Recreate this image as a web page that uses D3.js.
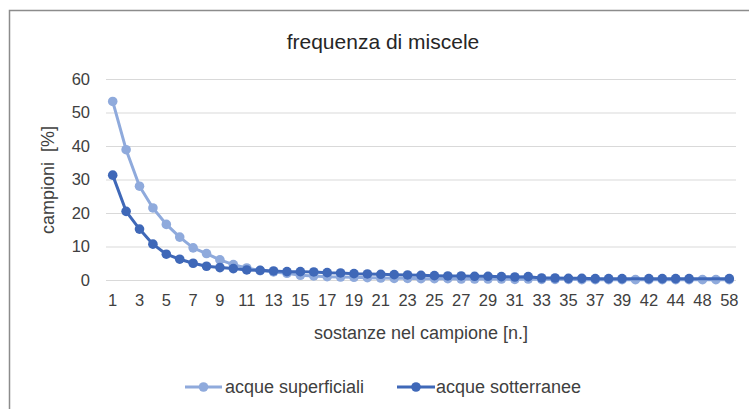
<!DOCTYPE html>
<html><head><meta charset="utf-8">
<script src="https://cdn.jsdelivr.net/npm/d3@7"></script>
<style>body{margin:0;background:#fff}svg{display:block}text{font-family:"Liberation Sans",Arial,sans-serif;fill:#404040}</style>
</head><body><svg id="c" width="749" height="409"></svg>
<script>
const categories = [1,2,3,4,5,6,7,8,9,10,11,12,13,14,15,16,17,18,19,20,21,22,23,24,25,26,27,28,29,30,31,32,33,34,35,36,37,38,39,40,42,43,44,46,48,50,58];
const superficiali = [53.3,38.9,28.0,21.5,16.6,12.8,9.6,7.9,6.0,4.6,3.6,2.8,2.4,2.0,1.4,1.2,1.0,0.9,0.8,0.7,0.6,0.5,0.5,0.4,0.4,0.4,0.3,0.3,0.3,0.3,0.2,0.3,0.2,0.2,0.2,0.1,0.1,0.1,0.1,0.1,0.1,0.1,0.1,0.1,0.1,0.1,0.1];
const sotterranee = [31.3,20.5,15.2,10.7,7.7,6.2,5.0,4.1,3.7,3.4,3.0,2.9,2.7,2.5,2.5,2.4,2.2,2.1,1.9,1.8,1.7,1.6,1.5,1.4,1.3,1.2,1.2,1.1,1.1,1.0,0.9,1.0,0.6,0.6,0.5,0.5,0.4,0.4,0.4,null,0.4,0.4,0.4,0.4,null,null,0.4];
const yTicks = [0,10,20,30,40,50,60];
const seriesNames = ["acque superficiali","acque sotterranee"];
const colors = ["#8FAADC","#3F68B8"];

const svg = d3.select("#c");
svg.append("rect").attr("x",9.5).attr("y",10.5).attr("width",760).attr("height",420)
  .attr("fill","#fff").attr("stroke","#8c8c8c").attr("stroke-width",1.5);

const x = d3.scaleBand().domain(d3.range(categories.length)).range([106,736]);
const cx = i => x(i) + x.bandwidth()/2;
const y = d3.scaleLinear().domain([0,60]).range([280,79]);

svg.append("text").attr("x",383).attr("y",49).attr("text-anchor","middle")
  .style("font-size","21px").style("fill","#262626").text("frequenza di miscele");

// grid
svg.append("g").selectAll("line").data(yTicks).join("line")
  .attr("x1",106).attr("x2",736).attr("y1",d=>y(d)+0.5).attr("y2",d=>y(d)+0.5)
  .attr("stroke","#d9d9d9").attr("stroke-width",1);

const yAxis = d3.axisLeft(y).tickValues(yTicks).tickSize(0).tickPadding(0);
const gy = svg.append("g").attr("transform","translate(90,0)").call(yAxis);
gy.select(".domain").remove();
gy.selectAll("text").style("font-size","16.5px").style("font-family","Liberation Sans, Arial, sans-serif").attr("fill","#404040");

const xAxis = d3.axisBottom(x).tickSize(0).tickPadding(0)
  .tickFormat((d,i)=> i%2===0 ? categories[i] : "");
const gx = svg.append("g").attr("transform","translate(0,294)").call(xAxis);
gx.select(".domain").remove();
gx.selectAll("text").style("font-size","16.5px").style("font-family","Liberation Sans, Arial, sans-serif").attr("fill","#404040");

svg.append("text").attr("x",421).attr("y",339).attr("text-anchor","middle")
  .style("font-size","18px").text("sostanze nel campione [n.]");
svg.append("text").attr("transform","translate(54,180) rotate(-90)").attr("text-anchor","middle")
  .style("font-size","18px").style("white-space","pre").text("campioni  [%]");

const data = [superficiali, sotterranee];
data.forEach((vals,k)=>{
  const pts = vals.map((v,i)=>({i,v})).filter(p=>p.v!==null);
  const line = d3.line().x(p=>cx(p.i)).y(p=>y(p.v));
  const g = svg.append("g");
  g.append("path").datum(pts).attr("d",line).attr("fill","none")
    .attr("stroke",colors[k]).attr("stroke-width",3).attr("stroke-linejoin","round");
  g.selectAll("circle").data(pts).join("circle")
    .attr("cx",p=>cx(p.i)).attr("cy",p=>y(p.v)).attr("r",4.8).attr("fill",colors[k]);
});

// legend
const leg = [{x0:185,x1:222,tx:225},{x0:397,x1:435,tx:436}];
leg.forEach((l,k)=>{
  svg.append("line").attr("x1",l.x0).attr("x2",l.x1).attr("y1",387).attr("y2",387)
    .attr("stroke",colors[k]).attr("stroke-width",3);
  svg.append("circle").attr("cx",(l.x0+l.x1)/2).attr("cy",387).attr("r",4.8).attr("fill",colors[k]);
  svg.append("text").attr("x",l.tx).attr("y",393).style("font-size","18px").text(seriesNames[k]);
});
</script></body></html>
